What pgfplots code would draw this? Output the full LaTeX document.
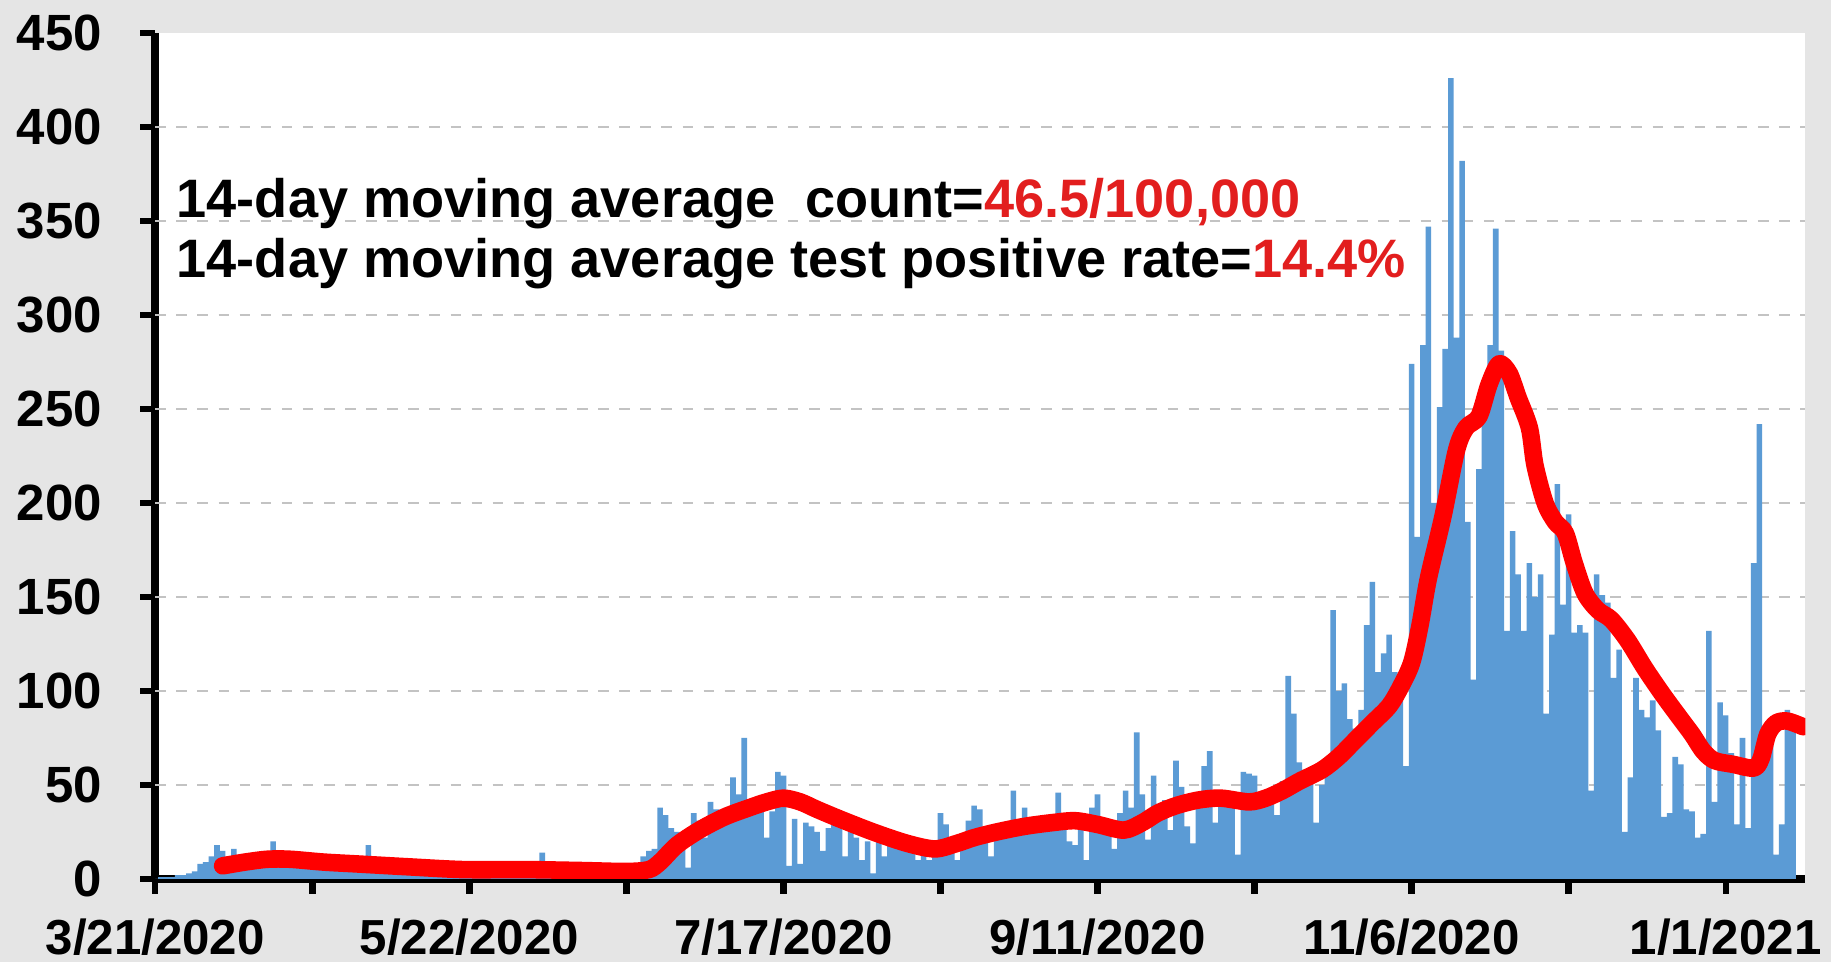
\documentclass[border=0pt]{standalone}
\usepackage{fontspec}
\setmainfont{Liberation Sans}
\usepackage{pgfplots}
\usepackage{pgfplotstable}
\pgfplotsset{compat=1.18}

\definecolor{bggray}{RGB}{229,229,229}
\definecolor{barblue}{RGB}{91,155,213}
\definecolor{avgred}{RGB}{255,0,0}
\definecolor{txtred}{RGB}{226,30,30}
\definecolor{gridgray}{RGB}{195,195,195}

% daily counts per 100,000, day 0 = 3/21/2020
\pgfplotstableread{
day count
0 0
1 1
2 1
3 1
4 2
5 2
6 3
7 4
8 8
9 9
10 12
11 18
12 15
13 10
14 16
15 9
16 7
17 10
18 8
19 12
20 11
21 20
22 10
23 9
24 11
25 8
26 12
27 9
28 7
29 10
30 8
31 9
32 11
33 8
34 7
35 9
36 8
37 10
38 18
39 8
40 7
41 6
42 9
43 7
44 5
45 8
46 6
47 7
48 5
49 6
50 8
51 5
52 6
53 4
54 7
55 5
56 6
57 5
58 4
59 6
60 5
61 7
62 4
63 5
64 6
65 4
66 5
67 6
68 5
69 14
70 5
71 4
72 6
73 5
74 4
75 5
76 3
77 6
78 4
79 5
80 4
81 3
82 5
83 4
84 8
85 4
86 6
87 12
88 15
89 16
90 38
91 34
92 27
93 25
94 24
95 6
96 35
97 31
98 22
99 41
100 37
101 28
102 35
103 54
104 45
105 75
106 38
107 35
108 40
109 22
110 36
111 57
112 55
113 7
114 32
115 8
116 30
117 28
118 25
119 15
120 27
121 30
122 28
123 12
124 30
125 22
126 10
127 20
128 3
129 22
130 12
131 18
132 20
133 17
134 19
135 16
136 10
137 18
138 10
139 17
140 35
141 29
142 20
143 10
144 22
145 31
146 39
147 37
148 25
149 12
150 24
151 26
152 28
153 47
154 27
155 38
156 30
157 33
158 29
159 30
160 28
161 46
162 32
163 20
164 18
165 30
166 10
167 38
168 45
169 32
170 30
171 16
172 35
173 47
174 38
175 78
176 45
177 21
178 55
179 40
180 42
181 26
182 63
183 49
184 28
185 19
186 45
187 60
188 68
189 30
190 42
191 40
192 45
193 13
194 57
195 56
196 55
197 45
198 40
199 48
200 34
201 52
202 108
203 88
204 62
205 58
206 55
207 30
208 50
209 65
210 143
211 100
212 104
213 85
214 80
215 90
216 135
217 158
218 110
219 120
220 130
221 110
222 95
223 60
224 274
225 182
226 284
227 347
228 200
229 251
230 282
231 426
232 288
233 382
234 190
235 106
236 218
237 263
238 284
239 346
240 281
241 132
242 185
243 162
244 132
245 168
246 150
247 162
248 88
249 130
250 210
251 146
252 194
253 131
254 135
255 131
256 47
257 162
258 151
259 147
260 107
261 122
262 25
263 54
264 107
265 90
266 86
267 95
268 79
269 33
270 35
271 65
272 61
273 37
274 36
275 22
276 24
277 132
278 41
279 94
280 87
281 67
282 29
283 75
284 27
285 168
286 242
287 80
288 77
289 13
290 29
291 90
292 85
}\dailycases

\begin{document}
\begin{tikzpicture}
\fill[bggray] (0,0) rectangle (18.31,9.62);
\useasboundingbox (0,0) rectangle (18.31,9.62);
\begin{axis}[
  at={(1.553cm,0.83cm)}, anchor=south west,
  width=16.5cm, height=8.46cm, scale only axis,
  xmin=0, xmax=294.2, ymin=0, ymax=450,
  axis x line*=bottom, axis y line*=left,
  axis line style={-, line width=2.3pt, black},
  axis background/.style={fill=white},
  ytick={0,50,...,450},
  xtick={0,28,...,280},
  xticklabels={3/21/2020,,5/22/2020,,7/17/2020,,9/11/2020,,11/6/2020,,1/1/2021},
  tick align=outside, major tick length=0.15cm,
  tick style={line width=1.8pt, black},
  extra y ticks={50,100,...,400},
  extra y tick labels={},
  extra y tick style={grid=major, major tick length=0pt},
  grid style={dashed, gridgray, line width=0.6pt},
  /pgf/number format/assume math mode=true,
  yticklabel style={font=\bfseries\fontsize{14.5}{14.5}\selectfont, xshift=-0.26cm},
  xticklabel style={font=\bfseries\fontsize{14}{14}\selectfont, yshift=-0.12cm},
]
\addplot[ybar, bar width=1, fill=barblue, draw=none] table[x=day, y=count] {\dailycases};
\addplot[avgred, line width=5pt, smooth, line join=round, line cap=round] coordinates {
(12,7) (16,9) (20,10.5) (24,10.5) (30,9) (36,8) (45,6.5) (55,5) (66,5) (76,4.5)
(84,4) (88,5) (90,9) (93,18) (97,26) (101.5,33) (106,38) (109,41) (112,43) (115,41)
(118,37) (122,32) (128,25) (134,19) (139,16) (143,19) (146,22) (150,25) (155,28)
(160,30) (164,31) (168,29) (172.7,26) (176,30) (178.7,35) (182,39) (186,42) (190,43)
(195,41) (198,43) (201,47) (204,52) (208,58) (211,65) (214,74) (217,83) (220,92)
(222,102) (224,115) (225.5,135) (227,160) (229.6,193) (232,228) (233.7,240) (236,246)
(237.8,263) (239.6,274) (241.4,269) (243,256) (245,240) (246,220) (247.8,200)
(249.6,190) (251.4,184) (253,168) (254.9,152) (257.2,143) (259.6,138) (262.5,127)
(265.6,112) (268.8,98) (272,85) (274,77) (276,68) (278,63) (281.3,61) (285,59)
(286.3,64) (287.5,77) (289,83) (291,84) (293.8,81)
};
\node[anchor=base west, inner sep=0pt, font=\bfseries\fontsize{15.4}{15.4}\selectfont]
  at (axis cs:3.7,352) {14-day moving average\ \ count=\textcolor{txtred}{46.5/100,000}};
\node[anchor=base west, inner sep=0pt, font=\bfseries\fontsize{15.4}{15.4}\selectfont]
  at (axis cs:3.7,320) {14-day moving average test positive rate=\textcolor{txtred}{14.4\%}};
\end{axis}
\end{tikzpicture}
\end{document}
